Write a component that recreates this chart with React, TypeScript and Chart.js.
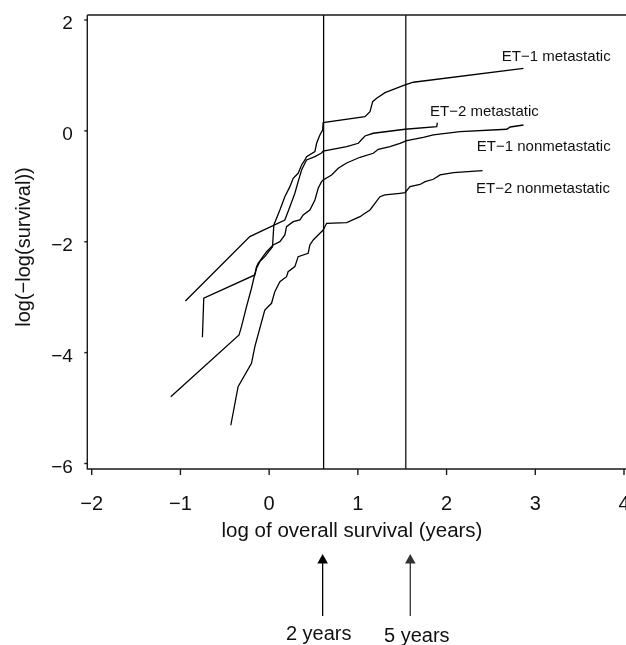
import React, { useEffect, useRef } from "react";
import { Chart, registerables } from "chart.js";

Chart.register(...registerables);

// ---- data (log time, log(-log(S))) ----
const et1MetX = [-0.752, -0.737, -0.161, -0.142, -0.105, -0.049, 0.038, 0.053, 0.121, 0.177, 0.234, 0.271, 0.327, 0.366, 0.403, 0.422, 0.516, 0.535, 0.572, 0.603, 0.609, 1.08, 1.137, 1.167, 1.212, 1.306, 1.532, 1.625, 2.867];
const et1MetY = [-3.723, -3.019, -2.599, -2.478, -2.359, -2.269, -2.089, -1.697, -1.427, -1.187, -1.006, -0.855, -0.765, -0.615, -0.525, -0.465, -0.375, -0.224, -0.074, 0.016, 0.148, 0.256, 0.346, 0.527, 0.588, 0.689, 0.828, 0.877, 1.129];

const et2MetX = [-0.944, -0.218, 0.177, 0.234, 0.29, 0.327, 0.366, 0.403, 0.422, 0.516, 0.591, 0.609, 0.874, 1.005, 1.08, 1.174, 1.532, 1.889, 1.896];
const et2MetY = [-3.068, -1.908, -1.607, -1.367, -1.126, -0.916, -0.705, -0.584, -0.525, -0.465, -0.399, -0.363, -0.285, -0.224, -0.092, -0.043, 0.029, 0.076, 0.148];

const et1NonX = [-1.109, -0.339, -0.312, -0.255, -0.199, -0.142, -0.124, -0.029, 0.045, 0.121, 0.177, 0.196, 0.271, 0.347, 0.384, 0.459, 0.516, 0.553, 0.591, 0.609, 0.704, 0.779, 0.874, 1.024, 1.174, 1.23, 1.362, 1.475, 1.551, 1.738, 1.851, 2.152, 2.679, 2.717, 2.867];
const et1NonY = [-4.794, -3.681, -3.532, -3.171, -2.839, -2.449, -2.388, -2.179, -2.058, -1.999, -1.878, -1.728, -1.638, -1.607, -1.517, -1.427, -1.246, -1.035, -0.916, -0.886, -0.795, -0.675, -0.579, -0.476, -0.404, -0.332, -0.285, -0.224, -0.177, -0.119, -0.074, -0.014, 0.029, 0.07, 0.106];

const et2NonX = [-0.432, -0.35, -0.199, -0.161, -0.049, 0.027, 0.064, 0.121, 0.196, 0.214, 0.29, 0.327, 0.44, 0.459, 0.497, 0.553, 0.609, 0.648, 0.874, 1.024, 1.08, 1.137, 1.249, 1.306, 1.475, 1.532, 1.588, 1.701, 1.758, 1.851, 1.927, 2.077, 2.406];
const et2NonY = [-5.31, -4.614, -4.192, -3.892, -3.231, -3.11, -2.9, -2.72, -2.63, -2.54, -2.449, -2.269, -2.208, -2.058, -1.968, -1.878, -1.788, -1.667, -1.656, -1.548, -1.486, -1.427, -1.187, -1.156, -1.126, -1.115, -1.006, -0.967, -0.916, -0.873, -0.795, -0.754, -0.718];

const seriesNames = ["ET\u22121 metastatic", "ET\u22122 metastatic", "ET\u22121 nonmetastatic", "ET\u22122 nonmetastatic"];
const seriesLabelX = [2.623, 1.814, 2.341, 2.333];
const seriesLabelY = [1.266, 0.269, -0.357, -1.126];

const xTicks = [-2, -1, 0, 1, 2, 3, 4];
const yTicks = [2, 0, -2, -4, -6];
const xTickLabels = ["\u22122", "\u22121", "0", "1", "2", "3", "4"];
const yTickLabels = ["2", "0", "\u22122", "\u22124", "\u22126"];

const refLineX = [0.614, 1.54]; // 2 years, 5 years
const arrowX = [0.603, 1.591];
const arrowLabels = ["2 years", "5 years"];
const arrowLabelX = [0.559, 1.664];

const xTitle = "log of overall survival (years)";
const yTitle = "log(\u2212log(survival))";

const FONT = '"Liberation Sans", Arial, Helvetica, sans-serif';

function pts(xs: number[], ys: number[]) {
  return xs.map((x, i) => ({ x, y: ys[i] }));
}

const decorPlugin = {
  id: "decor",
  beforeDatasetsDraw(chart: any) {
    const { ctx, chartArea: a, scales } = chart;
    const xs = scales.x;
    ctx.save();
    refLineX.forEach((v, i) => {
      const px = xs.getPixelForValue(v);
      ctx.beginPath();
      ctx.strokeStyle = i === 0 ? "#000" : "#3a3a3a";
      ctx.lineWidth = i === 0 ? 1.3 : 1.6;
      ctx.moveTo(px, a.top);
      ctx.lineTo(px, a.bottom);
      ctx.stroke();
    });
    ctx.restore();
  },
  afterDraw(chart: any) {
    const { ctx, chartArea: a, scales, width } = chart;
    const xs = scales.x;
    const ys = scales.y;
    ctx.save();
    ctx.strokeStyle = "#1a1a1a";
    ctx.lineWidth = 1.4;
    // frame: left, top, bottom
    ctx.beginPath();
    ctx.moveTo(a.left, a.top);
    ctx.lineTo(a.left, a.bottom);
    ctx.moveTo(a.left, a.top);
    ctx.lineTo(width, a.top);
    ctx.moveTo(a.left - 0.6, a.bottom);
    ctx.lineTo(width, a.bottom);
    ctx.stroke();

    // y ticks
    ctx.fillStyle = "#111";
    ctx.font = `19px ${FONT}`;
    ctx.textAlign = "right";
    ctx.textBaseline = "alphabetic";
    yTicks.forEach((v, i) => {
      const py = ys.getPixelForValue(v);
      ctx.beginPath();
      ctx.moveTo(a.left - 3, py);
      ctx.lineTo(a.left, py);
      ctx.stroke();
      ctx.fillText(yTickLabels[i], a.left - 14.5, py + 9.2);
    });

    // x ticks
    ctx.font = `20px ${FONT}`;
    ctx.textAlign = "center";
    xTicks.forEach((v, i) => {
      const px = xs.getPixelForValue(v);
      ctx.beginPath();
      ctx.moveTo(px, a.bottom);
      ctx.lineTo(px, a.bottom + 6);
      ctx.stroke();
      ctx.fillText(xTickLabels[i], px, a.bottom + 41);
    });

    // axis titles
    ctx.font = `20.5px ${FONT}`;
    ctx.textAlign = "center";
    ctx.fillText(xTitle, 352, a.bottom + 68);
    ctx.save();
    ctx.translate(24, 247);
    ctx.rotate(-Math.PI / 2);
    ctx.textBaseline = "middle";
    ctx.font = `20px ${FONT}`;
    ctx.fillText(yTitle, 0, 0);
    ctx.restore();

    // series labels
    ctx.font = `15px ${FONT}`;
    ctx.textAlign = "left";
    ctx.textBaseline = "alphabetic";
    seriesNames.forEach((s, i) => {
      ctx.fillText(s, xs.getPixelForValue(seriesLabelX[i]), ys.getPixelForValue(seriesLabelY[i]));
    });

    // arrows with labels
    arrowX.forEach((v, i) => {
      const px = xs.getPixelForValue(v);
      const tip = a.bottom + 85;
      const base = tip + 9.5;
      const end = a.bottom + 147;
      const col = i === 0 ? "#000" : "#333";
      ctx.strokeStyle = col;
      ctx.fillStyle = col;
      ctx.lineWidth = 1.3;
      ctx.beginPath();
      ctx.moveTo(px, base - 1);
      ctx.lineTo(px, end);
      ctx.stroke();
      ctx.beginPath();
      ctx.moveTo(px, tip);
      ctx.lineTo(px - 5.3, base);
      ctx.lineTo(px + 5.3, base);
      ctx.closePath();
      ctx.fill();
      ctx.fillStyle = "#111";
      ctx.font = `20px ${FONT}`;
      ctx.textAlign = "center";
      ctx.fillText(arrowLabels[i], xs.getPixelForValue(arrowLabelX[i]), a.bottom + 171 + i * 2);
    });
    ctx.restore();
  },
};

export default function App() {
  const ref = useRef<HTMLCanvasElement | null>(null);
  useEffect(() => {
    if (!ref.current) return;
    const mk = (label: string, xs: number[], ys: number[]) => ({
      label,
      data: pts(xs, ys),
      showLine: true,
      borderColor: "#000",
      backgroundColor: "#000",
      borderWidth: 1.3,
      pointRadius: 0,
      tension: 0,
      fill: false,
    });
    const chart = new Chart(ref.current, {
      type: "scatter",
      data: {
        datasets: [
          mk(seriesNames[0], et1MetX, et1MetY),
          mk(seriesNames[1], et2MetX, et2MetY),
          mk(seriesNames[2], et1NonX, et1NonY),
          mk(seriesNames[3], et2NonX, et2NonY),
        ],
      },
      options: {
        animation: false,
        responsive: false,
        devicePixelRatio: 1,
        layout: { padding: { left: 87.3, top: 15, right: 0, bottom: 176 } },
        plugins: { legend: { display: false }, tooltip: { enabled: false } },
        scales: {
          x: { type: "linear", min: -2.0497, max: 4.0226, display: false },
          y: { type: "linear", min: -6.0992, max: 2.0902, display: false },
        },
      },
      plugins: [decorPlugin],
    });
    return () => chart.destroy();
  }, []);
  return (
    <div style={{ position: "fixed", left: 0, top: 0, width: 626, height: 645, background: "#fff" }}>
      <canvas ref={ref} width={626} height={645} style={{ display: "block" }} />
    </div>
  );
}
